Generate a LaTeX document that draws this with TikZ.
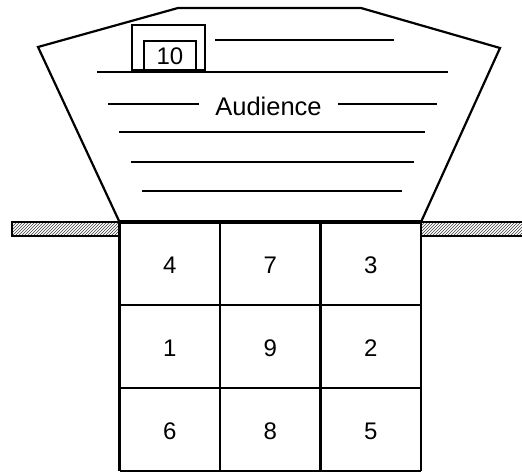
\documentclass[tikz,border=0pt]{standalone}
\usepackage{fontspec}
\setmainfont{Liberation Sans}
\usetikzlibrary{patterns}

\begin{document}
\begin{tikzpicture}[x=1pt,y=-1pt,line width=2.2pt,
  seatnum/.style={font=\fontsize{24}{28}\selectfont,inner sep=0pt},
  wall/.style={pattern=north east lines,pattern color=black!75}]
\useasboundingbox (0,0) rectangle (522,473);
% audience area
\coordinate (A) at (119.5,222); \coordinate (B) at (421,222);
\coordinate (C) at (500,48); \coordinate (D) at (361,8);
\coordinate (E) at (178,8); \coordinate (F) at (38,47);
\draw (A)--(B)--(C)--(D)--(E)--(F)--cycle;
\draw[line width=3.5pt] (A)--(B);
% walls
\draw[wall] (12,222) rectangle (A |- 0,236);
\draw[wall] (B) rectangle (530,236);
% seat 10
\draw (132,25) rectangle (205,71);
\node[draw,seatnum,minimum width=52pt,minimum height=30pt] (p10) at (170,56) {10};
\draw[line width=3.5pt] (132,71)--(205,71);
% rows
\coordinate (l3) at (108,104); \coordinate (r3) at (437,104);
\node[seatnum,font=\fontsize{25.5}{30}\selectfont,inner xsep=15pt] (aud) at (268.5,106) {Audience};
\draw (215,40)--(394,40);
\draw (97,72)--(448,72);
\draw (l3)--(aud.west |- l3); \draw (aud.east |- r3)--(r3);
\draw (119,132)--(425,132);
\draw (131,162)--(414,162);
\draw (142,191)--(402,191);
% stage grid
\foreach \x in {119.5,220,320.5,421} \draw (\x,222)--(\x,471);
\foreach \y in {305,388,471} \draw (119.5,\y)--(421,\y);
\foreach \lab/\c/\r in {4/0/0,7/1/0,3/2/0,1/0/1,9/1/1,2/2/1,6/0/2,8/1/2,5/2/2}
  \node[seatnum] (p\lab) at ({169.75+100.5*\c},{265+83*\r}) {\lab};
\end{tikzpicture}
\end{document}
